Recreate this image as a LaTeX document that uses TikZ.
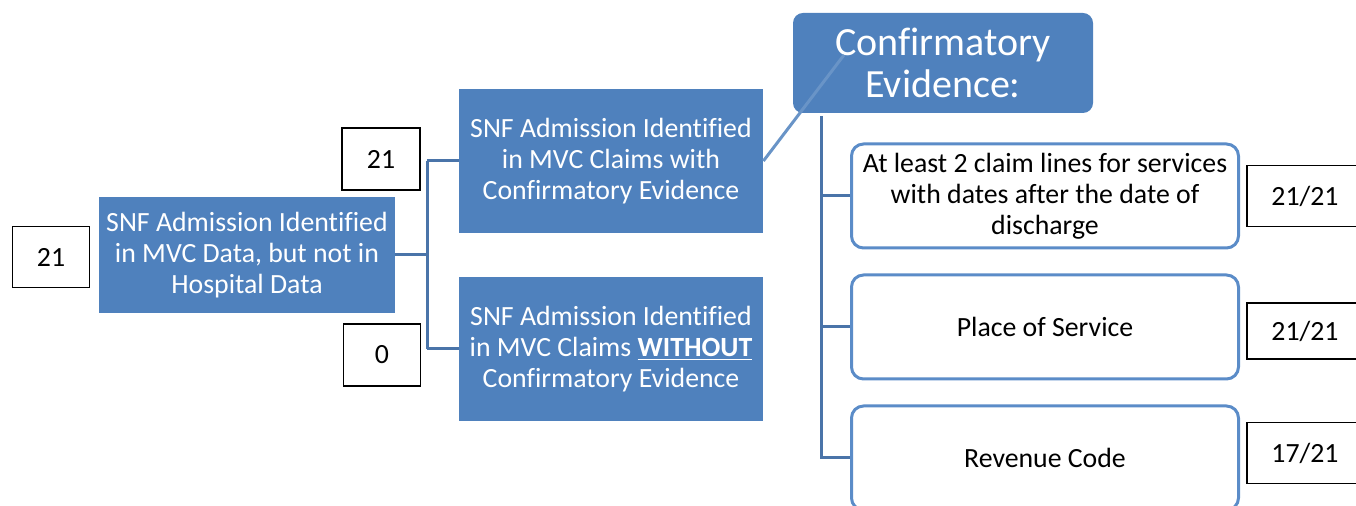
\documentclass[tikz,border=0pt]{standalone}
\usepackage{fontspec}
\setmainfont{Carlito}[Ligatures=NoCommon]
\usepackage{tikz}
\usetikzlibrary{positioning}

\definecolor{snfblue}{HTML}{4F81BD}
\definecolor{linkblue}{HTML}{4A74A9}
\definecolor{critblue}{HTML}{5B8CC8}

\begin{document}
\begin{tikzpicture}[x=0.5pt, y=-0.5pt,
    bluebox/.style={fill=snfblue, text=white, inner sep=0pt, align=center,
        minimum width=152pt, minimum height=72pt,
        font=\fontsize{13.9}{15.5}\selectfont},
    numbox/.style={draw=black, line width=0.7pt, fill=white, inner sep=0pt,
        minimum width=38.5pt, minimum height=30.5pt,
        font=\fontsize{13.9}{15.5}\selectfont},
    critbox/.style={draw=critblue, line width=1.5pt, rounded corners=6pt, fill=white,
        inner sep=0pt, align=center, minimum width=193.5pt, minimum height=52pt,
        font=\fontsize{13.9}{15.5}\selectfont},
    link/.style={draw=linkblue, line width=1.5pt}]
\useasboundingbox (0,0) rectangle (1356,506);
\clip (0,0) rectangle (1356,506);

% left part
\draw (51,257) node (InLeft) [numbox] {21};
\draw (247,255) node (Main) [bluebox, minimum width=148pt, minimum height=58pt]
    {SNF Admission Identified\\in MVC Data, but not in\\Hospital Data};
\draw (381,159) node (InWith) [numbox, minimum width=39pt, minimum height=31pt] {21};
\draw (382,355) node (InWithout) [numbox, minimum height=31pt] {0};

\draw (611,161) node (With) [bluebox]
    {SNF Admission Identified\\in MVC Claims with\\Confirmatory Evidence};
\draw (611,349) node (Without) [bluebox]
    {SNF Admission Identified\\in MVC Claims \underline{\textbf{WITHOUT}}\\Confirmatory Evidence};

\coordinate (fork) at (427,255);
\draw[link] (Main.east) -- (fork);
\draw[link] (fork |- With.west) -- (fork |- Without.west);
\draw[link] (fork |- With.west) -- (With.west);
\draw[link] (fork |- Without.west) -- (Without.west);

% confirmatory evidence
\draw (943,63) node (Conf) [bluebox, rounded corners=5pt, minimum width=150pt,
    minimum height=50pt, font=\fontsize{20}{21}\selectfont] {Confirmatory\\Evidence:};
\coordinate (confin) at (844,55);
\draw[link, draw=snfblue!85!white] (With.east) -- (confin);

\draw (1045,196) node (Lines) [critbox]
    {At least 2 claim lines for services\\with dates after the date of\\discharge};
\draw (1045,327) node (Place) [critbox] {Place of Service};
\draw (1045,458) node (Revenue) [critbox] {Revenue Code};

\coordinate (spine) at (821,116);
\draw[link] (spine) |- (Revenue.west);
\draw[link] (spine |- Lines.west) -- (Lines.west);
\draw[link] (spine |- Place.west) -- (Place.west);

\draw (1305,196) node (OutLines) [numbox, minimum width=58pt] {21/21};
\draw (1305,331) node (OutPlace) [numbox, minimum width=58pt, minimum height=28pt] {21/21};
\draw (1305,453) node (OutRevenue) [numbox, minimum width=58pt] {17/21};

\end{tikzpicture}
\end{document}
